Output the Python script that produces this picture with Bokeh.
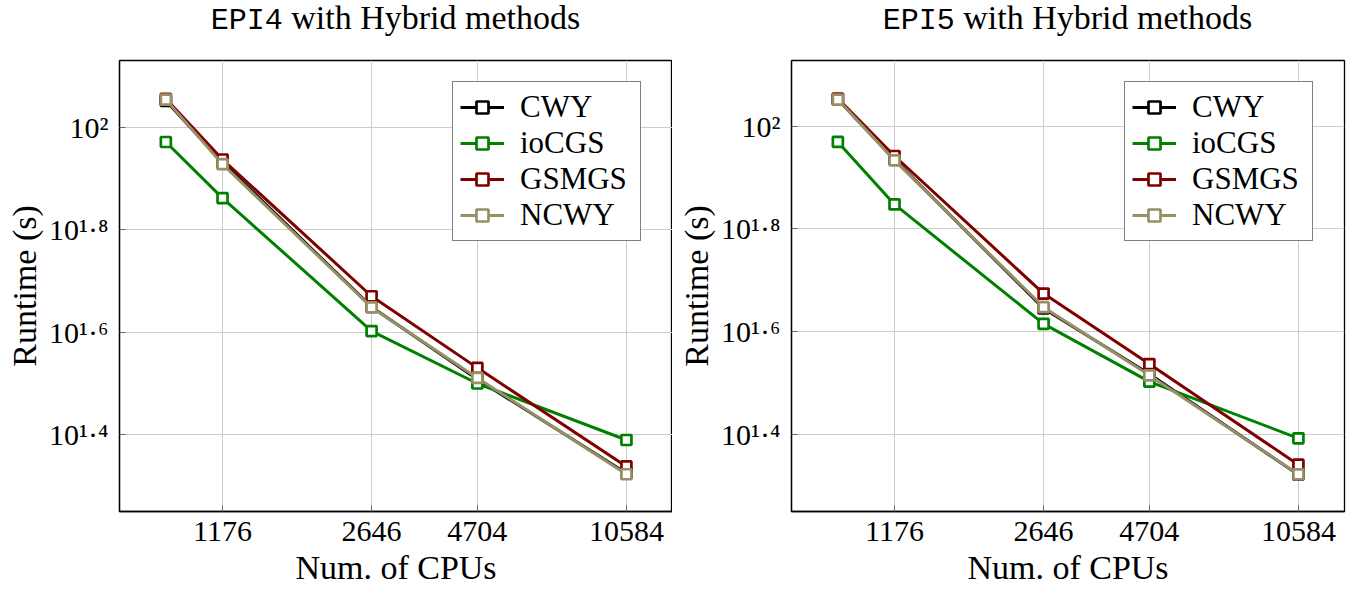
from bokeh.plotting import figure
from bokeh.layouts import row, column
from bokeh.models import FixedTicker, Range1d, Div
from bokeh.embed import file_html
from bokeh.resources import INLINE

# ---------------- data ----------------
cpus = [864, 1176, 2646, 4704, 10584]
x_tick_values = [1176, 2646, 4704, 10584]
x_tick_labels = ["1176", "2646", "4704", "10584"]
y_tick_exponents = [1.4, 1.6, 1.8, 2.0]
y_tick_labels = ["10\u00b9\u00b7\u2074", "10\u00b9\u00b7\u2076", "10\u00b9\u00b7\u2078", "10\u00b2"]

series_names = ["CWY", "ioCGS", "GSMGS", "NCWY"]
series_colors = ["#000000", "#008000", "#800000", "#989065"]

epi4_cwy = [112.8, 85.5, 44.6, 32.2, 21.1]
epi4_iocgs = [93.7, 72.8, 40.0, 31.6, 24.5]
epi4_gsmgs = [113.8, 86.6, 46.8, 33.9, 21.75]
epi4_ncwy = [113.4, 84.8, 44.5, 32.4, 21.0]

epi5_cwy = [112.7, 86.1, 44.15, 32.9, 20.93]
epi5_iocgs = [93.2, 70.4, 41.2, 31.8, 24.65]
epi5_gsmgs = [113.2, 87.5, 47.2, 34.4, 21.9]
epi5_ncwy = [112.7, 85.8, 44.4, 32.7, 20.97]

titles_code = ["EPI4", "EPI5"]
title_rest = "with Hybrid methods"

SERIF = "Liberation Serif"
MONO = "Liberation Mono"

X_LOG = (2.827, 4.1335)
BORDER_L = 119
FRAME_W = 553
FRAME_H = 451


def make_plot(code, series, y_log, border_right):
    width = BORDER_L + FRAME_W + border_right
    p = figure(width=width, height=549, x_axis_type="log", y_axis_type="log",
               x_range=Range1d(10 ** X_LOG[0], 10 ** X_LOG[1]),
               y_range=Range1d(10 ** y_log[0], 10 ** y_log[1]),
               output_backend="svg", toolbar_location=None,
               min_border_left=BORDER_L, min_border_right=border_right,
               min_border_top=16, min_border_bottom=82)
    p.background_fill_color = "white"
    p.border_fill_color = "white"
    p.outline_line_color = "black"
    p.outline_line_width = 1.3

    y_ticks = [10 ** e for e in y_tick_exponents]
    xt = FixedTicker(ticks=x_tick_values)
    yt = FixedTicker(ticks=y_ticks)

    p.xaxis.ticker = xt
    p.yaxis.ticker = yt
    p.xgrid.ticker = xt
    p.ygrid.ticker = yt
    p.xaxis.major_label_overrides = dict(zip(x_tick_values, x_tick_labels))
    p.yaxis.major_label_overrides = dict(zip(y_ticks, y_tick_labels))

    for ax in (p.xaxis[0], p.yaxis[0]):
        ax.axis_line_color = "black"
        ax.axis_line_width = 1.3
        ax.major_tick_in = 6
        ax.major_tick_out = 0
        ax.minor_tick_in = 0
        ax.minor_tick_out = 0
        ax.major_tick_line_color = "#666666"
        ax.major_label_text_font = SERIF
        ax.major_label_text_font_size = "30px"
        ax.major_label_text_color = "black"
        ax.axis_label_text_font = SERIF
        ax.axis_label_text_font_size = "34px"
        ax.axis_label_text_font_style = "normal"
        ax.axis_label_text_color = "black"
    p.xaxis.axis_label = "Num. of CPUs"
    p.yaxis.axis_label = "Runtime (s)"
    p.xaxis.major_label_standoff = 10
    p.xaxis.axis_label_standoff = 5
    p.yaxis.major_label_standoff = 11
    p.yaxis.axis_label_standoff = 3

    p.xgrid.grid_line_color = "#cccccc"
    p.ygrid.grid_line_color = "#cccccc"
    p.xgrid.grid_line_width = 1
    p.ygrid.grid_line_width = 1

    for name, color, vals in zip(series_names, series_colors, series):
        p.line(cpus, vals, line_color=color, line_width=3, legend_label=name)
        p.scatter(cpus, vals, marker="square", size=10, line_color=color,
                  line_width=2.7, fill_color="white", legend_label=name)

    leg = p.legend[0]
    leg.location = (333, 270)
    leg.border_line_color = "black"
    leg.border_line_width = 1.3
    leg.background_fill_color = "white"
    leg.background_fill_alpha = 1.0
    leg.label_text_font = SERIF
    leg.label_text_font_size = "31px"
    leg.label_text_color = "black"
    leg.glyph_width = 44
    leg.glyph_height = 30
    leg.label_height = 32
    leg.label_width = 113
    leg.label_standoff = 16
    leg.spacing = 0
    leg.padding = 7
    leg.margin = 0

    title = Div(
        text=('<div style="margin-left:%dpx;width:%dpx;text-align:center;white-space:nowrap;'
              'font-family:\'%s\';font-size:34px;line-height:36px;color:black;padding-top:0px">'
              '<span style="font-family:\'%s\';font-size:30px">%s</span> %s</div>')
             % (BORDER_L, FRAME_W, SERIF, MONO, code, title_rest),
        width=width, height=44, margin=0)
    return column(title, p, spacing=0)


p1 = make_plot(titles_code[0], [epi4_cwy, epi4_iocgs, epi4_gsmgs, epi4_ncwy],
               (1.2494, 2.1311), 0)
p2 = make_plot(titles_code[1], [epi5_cwy, epi5_iocgs, epi5_gsmgs, epi5_ncwy],
               (1.2492, 2.1281), 6)

layout = row(p1, p2, spacing=0)
open("out.html", "w").write(file_html(layout, INLINE))
